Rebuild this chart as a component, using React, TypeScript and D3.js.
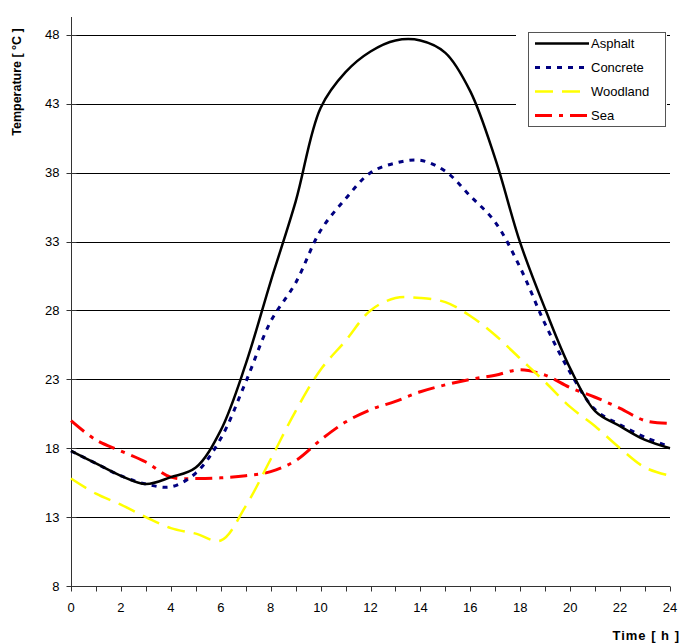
import React, { useEffect, useRef } from "react";
import * as d3 from "d3";

const hours = [0, 1, 2, 3, 4, 5, 6, 7, 8, 9, 10, 11, 12, 13, 14, 15, 16, 17, 18, 19, 20, 21, 22, 23, 24];

const asphalt = [17.8, 16.9, 16.0, 15.4, 15.9, 16.6, 19.3, 24.1, 30.1, 35.9, 42.7, 45.3, 46.8, 47.6, 47.6, 46.7, 43.9, 39.0, 32.9, 28.1, 23.8, 20.7, 19.6, 18.6, 18.0];
const concrete = [17.8, 16.9, 16.0, 15.4, 15.2, 16.2, 18.7, 22.8, 27.2, 30.0, 33.8, 36.1, 38.0, 38.7, 38.9, 38.1, 36.3, 34.4, 31.1, 27.0, 23.5, 20.8, 19.7, 18.8, 18.1];
const woodland = [15.8, 14.7, 13.9, 13.0, 12.2, 11.8, 11.3, 13.8, 17.2, 20.7, 23.7, 25.8, 28.0, 28.9, 28.9, 28.6, 27.6, 26.2, 24.5, 22.8, 21.0, 19.6, 18.0, 16.6, 16.0];
const sea = [20.0, 18.6, 17.8, 17.0, 15.9, 15.8, 15.85, 16.0, 16.3, 17.1, 18.6, 19.9, 20.8, 21.4, 22.1, 22.6, 23.0, 23.3, 23.7, 23.3, 22.4, 21.7, 20.9, 20.0, 19.8];

const yTicks = [8, 13, 18, 23, 28, 33, 38, 43, 48];
const xLabels = [0, 2, 4, 6, 8, 10, 12, 14, 16, 18, 20, 22, 24];

const series = [
  { name: "Asphalt", values: asphalt, color: "#000000", dash: null, width: 2.5 },
  { name: "Concrete", values: concrete, color: "#000080", dash: "5,6", width: 3 },
  { name: "Woodland", values: woodland, color: "#FFFF00", dash: "18,9", width: 2.5 },
  { name: "Sea", values: sea, color: "#FF0000", dash: "17,7,4,7", width: 3 }
];

const App = () => {
  const ref = useRef<SVGSVGElement>(null);

  useEffect(() => {
    const svg = d3.select(ref.current);
    svg.selectAll("*").remove();
    const font = "'Liberation Sans', Arial, sans-serif";

    const x = d3.scaleLinear().domain([0, 24]).range([71, 670]);
    const y = d3.scaleLinear().domain([8, 49.3]).range([586, 17]);

    // gridlines
    svg
      .append("g")
      .selectAll("line")
      .data(yTicks.slice(1))
      .join("line")
      .attr("x1", x(0))
      .attr("x2", x(24))
      .attr("y1", d => Math.round(y(d)) + 0.5)
      .attr("y2", d => Math.round(y(d)) + 0.5)
      .attr("stroke", "#000")
      .attr("stroke-width", 1);

    // Y axis
    const yAxis = svg.append("g").attr("transform", `translate(${x(0) + 0.5},0)`);
    yAxis.append("line").attr("y1", y(49.3)).attr("y2", y(8)).attr("stroke", "#333");
    yAxis
      .selectAll("line.tick")
      .data(yTicks)
      .join("line")
      .attr("class", "tick")
      .attr("x1", -5)
      .attr("x2", 5)
      .attr("y1", d => Math.round(y(d)) + 0.5)
      .attr("y2", d => Math.round(y(d)) + 0.5)
      .attr("stroke", "#333");
    yAxis
      .selectAll("text")
      .data(yTicks)
      .join("text")
      .attr("x", -12)
      .attr("y", d => y(d))
      .attr("dy", "0.35em")
      .attr("text-anchor", "end")
      .attr("font-family", font)
      .attr("font-size", 13)
      .text(d => d);

    // X axis
    const xAxis = svg.append("g").attr("transform", `translate(0,${Math.round(y(8)) + 0.5})`);
    xAxis.append("line").attr("x1", x(0)).attr("x2", x(24)).attr("stroke", "#333");
    xAxis
      .selectAll("line.tick")
      .data(hours)
      .join("line")
      .attr("class", "tick")
      .attr("x1", d => Math.round(x(d)) + 0.5)
      .attr("x2", d => Math.round(x(d)) + 0.5)
      .attr("y1", 0)
      .attr("y2", 5)
      .attr("stroke", "#333");
    xAxis
      .selectAll("text")
      .data(xLabels)
      .join("text")
      .attr("x", d => x(d))
      .attr("y", 25)
      .attr("text-anchor", "middle")
      .attr("font-family", font)
      .attr("font-size", 13)
      .text(d => d);

    // axis titles
    svg
      .append("text")
      .attr("transform", "translate(21,82) rotate(-90)")
      .attr("text-anchor", "middle")
      .attr("font-family", font)
      .attr("font-size", 12.5)
      .attr("font-weight", "bold")
      .text("Temperature [ °C ]");
    svg
      .append("text")
      .attr("x", 680)
      .attr("y", 640)
      .attr("text-anchor", "end")
      .attr("font-family", font)
      .attr("font-size", 13)
      .attr("letter-spacing", 1)
      .attr("font-weight", "bold")
      .text("Time [ h ]");

    // lines
    const line = d3
      .line<number>()
      .x((_, i) => x(hours[i]))
      .y(d => y(d))
      .curve(d3.curveCatmullRom.alpha(0.5));

    svg
      .append("g")
      .selectAll("path")
      .data(series.slice().reverse())
      .join("path")
      .attr("d", d => line(d.values))
      .attr("fill", "none")
      .attr("stroke", d => d.color)
      .attr("stroke-width", d => d.width)
      .attr("stroke-dasharray", d => d.dash)
      .attr("stroke-linejoin", "round");

    // legend
    const legend = svg.append("g");
    legend.append("rect").attr("x", 516).attr("y", 26).attr("width", 151).attr("height", 104).attr("fill", "#fff");
    legend
      .append("rect")
      .attr("x", 528.5)
      .attr("y", 32.5)
      .attr("width", 137)
      .attr("height", 94)
      .attr("fill", "#fff")
      .attr("stroke", "#555")
      .attr("stroke-width", 1);
    const item = legend
      .selectAll("g.item")
      .data(series)
      .join("g")
      .attr("class", "item")
      .attr("transform", (_, i) => `translate(0,${43.5 + i * 24})`);
    item
      .append("line")
      .attr("x1", 535)
      .attr("x2", 589)
      .attr("stroke", d => d.color)
      .attr("stroke-width", d => d.width)
      .attr("stroke-dasharray", d => d.dash);
    item
      .append("text")
      .attr("x", 591)
      .attr("dy", "0.35em")
      .attr("font-family", font)
      .attr("font-size", 13)
      .text(d => d.name);
  }, []);

  return (
    <svg
      ref={ref}
      width={680}
      height={644}
      style={{ position: "absolute", left: 0, top: 0, background: "#fff" }}
    />
  );
};

export default App;
